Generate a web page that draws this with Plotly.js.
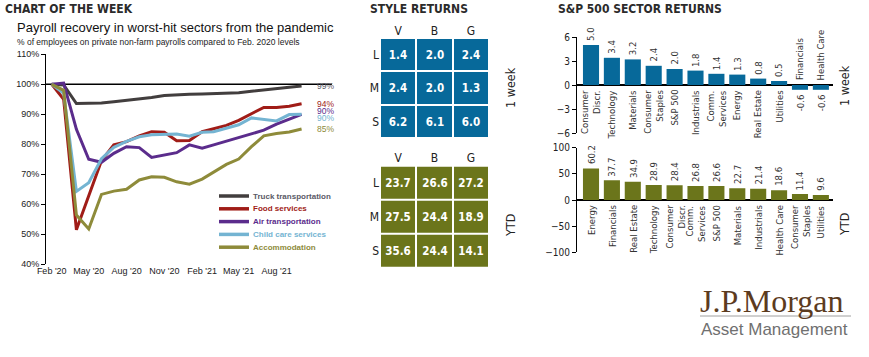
<!DOCTYPE html>
<html><head><meta charset="utf-8">
<script src="https://cdn.plot.ly/plotly-3.0.1.min.js"></script>
<style>html,body{margin:0;padding:0;background:#fff;} #chart{width:869px;height:357px;}</style>
</head><body><div id="chart"></div>
<script>
// ---------------- DATA ----------------
const months = ['2020-02-01','2020-03-01','2020-04-01','2020-05-01','2020-06-01','2020-07-01','2020-08-01',
  '2020-09-01','2020-10-01','2020-11-01','2020-12-01','2021-01-01','2021-02-01','2021-03-01','2021-04-01',
  '2021-05-01','2021-06-01','2021-07-01','2021-08-01','2021-09-01','2021-10-01'];
const monthTickLabels = ["Feb '20","May '20","Aug '20","Nov '20","Feb '21","May '21","Aug '21"];
const truckTransportation = [100, 99.8, 93.6, 93.7, 93.8, 94.2, 94.6, 95.1, 95.6, 96.3, 96.6, 96.7, 96.8, 96.9, 97.0, 97.2, 97.7, 98.2, 98.5, 99.0, 99.4];
const foodServices        = [100, 95.0, 51.5, 63.0, 74.5, 79.8, 80.9, 82.8, 84.2, 84.0, 81.2, 81.3, 84.2, 85.2, 86.3, 88.0, 90.1, 92.3, 92.3, 92.7, 93.5];
const airTransportation   = [100, 100.4, 85.0, 75.0, 74.0, 77.0, 79.2, 78.9, 75.6, 76.3, 77.2, 79.8, 78.7, 79.8, 81.0, 82.3, 83.6, 84.7, 86.7, 88.5, 90.0];
const childCareServices   = [100, 97.0, 64.3, 67.2, 75.2, 79.0, 81.0, 82.5, 83.2, 83.3, 83.4, 82.7, 84.0, 84.2, 85.3, 86.5, 88.8, 88.3, 87.8, 89.9, 90.0];
const accommodation       = [100, 98.0, 56.4, 51.8, 63.3, 64.4, 65.0, 68.1, 69.2, 69.0, 67.5, 66.7, 68.4, 70.7, 73.3, 75.1, 79.2, 82.8, 83.6, 84.1, 85.1];
const seriesNames = ['Truck transportation','Food services','Air transportation','Child care services','Accommodation'];
const baseline = 100;

const styleCols = ['V','B','G'];
const styleRows = ['L','M','S'];
const styleWeek = [[1.4,2.0,2.4],[2.4,2.0,1.3],[6.2,6.1,6.0]];
const styleYTD  = [[23.7,26.6,27.2],[27.5,24.4,18.9],[35.6,24.4,14.1]];

const sectorWeekNames  = ['Consumer<br>Discr.','Technology','Materials','Consumer<br>Staples','S&P 500','Industrials','Comm.<br>Services','Energy','Real Estate','Utilities','Financials','Health Care'];
const sectorWeekValues = [5.0,3.4,3.2,2.4,2.0,1.8,1.4,1.3,0.8,0.5,-0.6,-0.6];
const sectorYTDNames   = ['Energy','Financials','Real Estate','Technology','Consumer<br>Discr.','Comm.<br>Services','S&P 500','Materials','Industrials','Health Care','Consumer<br>Staples','Utilities'];
const sectorYTDValues  = [60.2,37.7,34.9,28.9,28.4,26.8,26.6,22.7,21.4,18.6,11.4,9.6];

// ---------------- STYLE ----------------
const W = 869, H = 357;
const px = v => v / W, py = v => 1 - v / H;
const SANS = 'Arial, "Liberation Sans", sans-serif';
const NARROW = '"Liberation Sans Narrow", "Arial Narrow", "DejaVu Sans Condensed", Arial, sans-serif';
const lineColors = ['#423e3e','#a01c17','#5b2c8c','#74b4d2','#8e8b3a'];
const labelColors = ['#5a5a66','#a01c17','#5b2c8c','#74b4d2','#8e8b3a'];
const BLUE = '#07699a', OLIVE = '#6b751b';

const allSeries = [truckTransportation, foodServices, airTransportation, childCareServices, accommodation];

const traces = [];
allSeries.forEach((s, k) => {
  traces.push({type:'scatter', mode:'lines', x: months, y: s, name: seriesNames[k],
    line:{color: lineColors[k], width: 3}, xaxis:'x', yaxis:'y', hoverinfo:'skip'});
});

function heat(z, xa, ya, color) {
  return {type:'heatmap', z: z, x: styleCols, y: styleRows, xaxis: xa, yaxis: ya,
    colorscale: [[0, color],[1, color]], showscale:false, xgap:2, ygap:2, hoverinfo:'skip',
    texttemplate:'%{z:.1f}', textfont:{color:'#ffffff', size:11.5, family: NARROW, weight:'bold'}};
}
traces.push(heat(styleWeek, 'x2', 'y2', BLUE));
traces.push(heat(styleYTD, 'x3', 'y3', OLIVE));

traces.push({type:'bar', x: sectorWeekValues.map((_, i) => i), y: sectorWeekValues, xaxis:'x4', yaxis:'y4',
  marker:{color: BLUE}, width:0.77, hoverinfo:'skip'});
traces.push({type:'bar', x: sectorYTDValues.map((_, i) => i), y: sectorYTDValues, xaxis:'x5', yaxis:'y5',
  marker:{color: OLIVE}, width:0.77, hoverinfo:'skip'});

const annotations = [];
const shapes = [];
function paperText(text, x, y, opts) {
  annotations.push(Object.assign({text, x: px(x), y: py(y), xref:'paper', yref:'paper', showarrow:false,
    xanchor:'left', yanchor:'middle'}, opts));
}

// Titles
paperText('<b>CHART OF THE WEEK</b>', 3, 9, {font:{family:NARROW, size:12, color:'#2b2b2b'}});
paperText('<b>STYLE RETURNS</b>', 368, 9, {font:{family:NARROW, size:12, color:'#2b2b2b'}});
paperText('<b>S&P 500 SECTOR RETURNS</b>', 556, 9, {font:{family:NARROW, size:12, color:'#2b2b2b'}});
paperText('Payroll recovery in worst-hit sectors from the pandemic', 15, 28, {font:{family:SANS, size:13, color:'#111'}});
paperText('% of employees on private non-farm payrolls compared to Feb. 2020 levels', 15, 42, {font:{family:SANS, size:8.5, color:'#222'}});

// Manual legend
seriesNames.forEach((n, k) => {
  const yy = 196 + 12.8 * k;
  shapes.push({type:'line', xref:'paper', yref:'paper', x0: px(219), x1: px(249), y0: py(yy), y1: py(yy),
    line:{color: lineColors[k], width:3.5}});
  paperText('<b>' + n + '</b>', 251, yy, {font:{family:SANS, size:8, color: labelColors[k]}});
});

// End labels
const endShift = [0, 0, 3.5, -4, 0];
allSeries.forEach((s, k) => {
  const v = s[s.length - 1];
  annotations.push({text: Math.round(v) + '%', x: months[months.length - 1], y: v, xref:'x', yref:'y',
    xanchor:'left', yanchor:'middle', xshift: 13, yshift: endShift[k], showarrow:false,
    font:{family:SANS, size:8.5, color: labelColors[k]}});
});

// Baseline at 100%
shapes.push({type:'line', xref:'x domain', yref:'y', x0:0, x1:1, y0: baseline, y1: baseline,
  line:{color:'#000', width:1.5}, layer:'below'});

// Side labels
paperText('1 week', 510, 88, {xanchor:'center', textangle:-90, font:{family:NARROW, size:12.5, color:'#222'}});
paperText('YTD', 510, 226, {xanchor:'center', textangle:-90, font:{family:NARROW, size:12.5, color:'#222'}});
paperText('1 week', 844, 86, {xanchor:'center', textangle:-90, font:{family:NARROW, size:12.5, color:'#222'}});
paperText('YTD', 844, 225, {xanchor:'center', textangle:-90, font:{family:NARROW, size:12.5, color:'#222'}});

// Sector bar labels
function barLabels(names, values, xa, ya) {
  values.forEach((v, i) => {
    const pos = v >= 0;
    annotations.push({text: v.toFixed(1), x: i, y: v, xref: xa, yref: ya, textangle:-90, showarrow:false,
      xanchor:'center', yanchor: pos ? 'bottom' : 'top', yshift: pos ? 2 : -2,
      font:{family:NARROW, size:9.5, color:'#333'}});
    annotations.push({text: names[i], x: i, y: 0, xref: xa, yref: ya, textangle:-90, showarrow:false,
      xanchor:'center', yanchor: pos ? 'top' : 'bottom', yshift: pos ? -3 : 3, align:'right',
      font:{family:NARROW, size:9.5, color:'#333'}});
  });
}
barLabels(sectorWeekNames, sectorWeekValues, 'x4', 'y4');
barLabels(sectorYTDNames, sectorYTDValues, 'x5', 'y5');

// Logo
paperText('J.P.Morgan', 698, 301, {font:{family:'"Liberation Serif", "DejaVu Serif", serif', size:32, color:'#5c3b1e'}});
shapes.push({type:'line', xref:'paper', yref:'paper', x0: px(700), x1: px(851), y0: py(316), y1: py(316),
  line:{color:'#a0a0a0', width:1}});
paperText('Asset Management', 699, 329, {font:{family:SANS, size:17, color:'#707070'}});

const noGrid = {showgrid:false, zeroline:false, fixedrange:true};
const tickIdx = months.map((_, i) => i).filter(i => i % 3 === 0);
const layout = {
  width: W, height: H, margin:{l:0, r:0, t:0, b:0}, paper_bgcolor:'#fff', plot_bgcolor:'rgba(0,0,0,0)',
  showlegend:false, annotations, shapes,
  xaxis: Object.assign({}, noGrid, {domain:[px(46), px(332)], anchor:'y', type:'date',
    range:['2020-01-18','2021-12-14'], tickmode:'array', tickvals: tickIdx.map(i => months[i]),
    ticktext: monthTickLabels,
    ticks:'', showline:false, tickfont:{family:SANS, size:9, color:'#222'}}),
  yaxis: Object.assign({}, noGrid, {domain:[py(264.3), py(54.3)], anchor:'x', range:[40,110], dtick:10,
    ticksuffix:'%', showline:true, linecolor:'#000', linewidth:1, ticks:'outside', ticklen:4, tickcolor:'#000',
    tickfont:{family:SANS, size:9, color:'#222'}}),
  xaxis2: Object.assign({}, noGrid, {domain:[px(380), px(489)], anchor:'y2', side:'top', type:'category',
    ticks:'', showline:false, tickfont:{family:NARROW, size:12, color:'#222'}}),
  yaxis2: Object.assign({}, noGrid, {domain:[py(138.3), py(38)], anchor:'x2', type:'category', autorange:'reversed',
    ticks:'', showline:false, tickfont:{family:NARROW, size:12, color:'#222'}}),
  xaxis3: Object.assign({}, noGrid, {domain:[px(380), px(489)], anchor:'y3', side:'top', type:'category',
    ticks:'', showline:false, tickfont:{family:NARROW, size:12, color:'#222'}}),
  yaxis3: Object.assign({}, noGrid, {domain:[py(267.7), py(165.7)], anchor:'x3', type:'category', autorange:'reversed',
    ticks:'', showline:false, tickfont:{family:NARROW, size:12, color:'#222'}}),
  xaxis4: Object.assign({}, noGrid, {domain:[px(577), px(833)], anchor:'y4', range:[-0.67, 11.58],
    showticklabels:false, ticks:'', showline:false}),
  yaxis4: Object.assign({}, noGrid, {domain:[py(133), py(37)], anchor:'x4', range:[-6, 6], dtick:3,
    showline:true, linecolor:'#000', linewidth:1, ticks:'outside', ticklen:4, tickcolor:'#000',
    zeroline:true, zerolinecolor:'#000', zerolinewidth:1.5,
    tickfont:{family:NARROW, size:10, color:'#222'}}),
  xaxis5: Object.assign({}, noGrid, {domain:[px(577), px(833)], anchor:'y5', range:[-0.67, 11.58],
    showticklabels:false, ticks:'', showline:false}),
  yaxis5: Object.assign({}, noGrid, {domain:[py(252.3), py(147.7)], anchor:'x5', range:[-100, 100], dtick:50,
    showline:true, linecolor:'#000', linewidth:1, ticks:'outside', ticklen:4, tickcolor:'#000',
    zeroline:true, zerolinecolor:'#000', zerolinewidth:1.5,
    tickfont:{family:NARROW, size:10, color:'#222'}})
};

Plotly.newPlot('chart', traces, layout, {staticPlot:true, displayModeBar:false});
</script>
</body></html>
